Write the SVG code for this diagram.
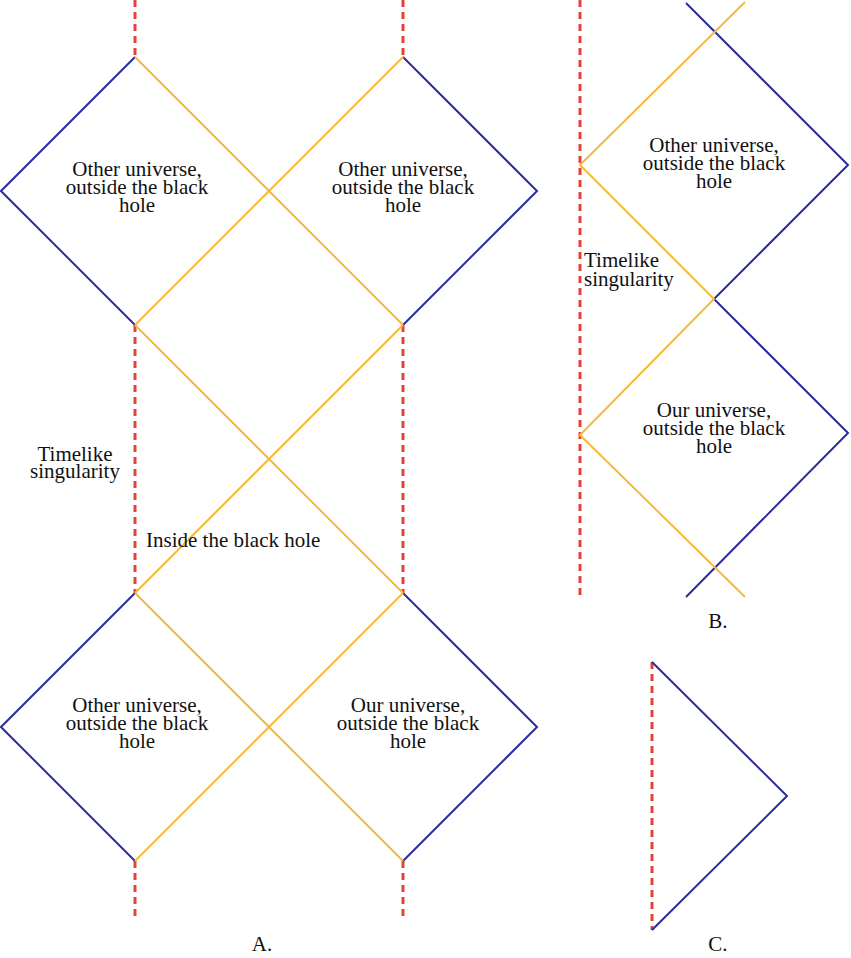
<svg xmlns="http://www.w3.org/2000/svg" width="851" height="958" viewBox="0 0 851 958">
<style>
.s{stroke:#e8413a;stroke-width:3;stroke-dasharray:7 5;fill:none}
.b{stroke:#2b2d9c;stroke-width:2;fill:none}
.o{stroke:#f6b93b;stroke-width:2;fill:none}
text{font-family:"Liberation Serif",serif;font-size:21px;fill:#111}
.c{text-anchor:middle}
</style>
<rect width="851" height="958" fill="#fff"/>
<g id="connectors">
<path class="s" d="M135 0V57M403 0V57M135 325V593M403 325V593M135 861V918M403 861V918M580 0V597M652 662V930"/>
<path class="b" d="M135 57L1 191L135 325M403 57L537 191L403 325M135 593L1 727L135 861M403 593L537 727L403 861"/>
<path class="o" d="M135 57L403 325M403 57L135 325M135 325L403 593M403 325L135 593M135 593L403 861M403 593L135 861"/>
<path class="b" d="M686 3L848 165L714 299L848 433L686 597"/>
<path class="o" d="M745 2L580 165L714 299L580 435L745 597"/>
<path class="b" d="M652 662L787 796L652 930"/>
</g>
<g id="a-top-left"><text class="c" x="137" y="176">Other universe,</text><text class="c" x="137" y="194">outside the black</text><text class="c" x="137" y="212">hole</text></g>
<g id="a-top-right"><text class="c" x="403" y="176">Other universe,</text><text class="c" x="403" y="194">outside the black</text><text class="c" x="403" y="212">hole</text></g>
<g id="a-bot-left"><text class="c" x="137" y="712">Other universe,</text><text class="c" x="137" y="730">outside the black</text><text class="c" x="137" y="748">hole</text></g>
<g id="a-bot-right"><text class="c" x="408" y="712">Our universe,</text><text class="c" x="408" y="730">outside the black</text><text class="c" x="408" y="748">hole</text></g>
<g id="a-sing"><text class="c" x="75" y="461">Timelike</text><text class="c" x="75" y="478">singularity</text></g>
<g id="a-inside"><text x="146" y="547">Inside the black hole</text></g>
<g id="b-top"><text class="c" x="714" y="152">Other universe,</text><text class="c" x="714" y="170">outside the black</text><text class="c" x="714" y="188">hole</text></g>
<g id="b-bot"><text class="c" x="714" y="417">Our universe,</text><text class="c" x="714" y="435">outside the black</text><text class="c" x="714" y="453">hole</text></g>
<g id="b-sing"><text x="584" y="267">Timelike</text><text x="584" y="286">singularity</text></g>
<text class="c" x="262" y="951">A.</text>
<text class="c" x="718" y="628">B.</text>
<text class="c" x="718" y="951">C.</text>
</svg>
